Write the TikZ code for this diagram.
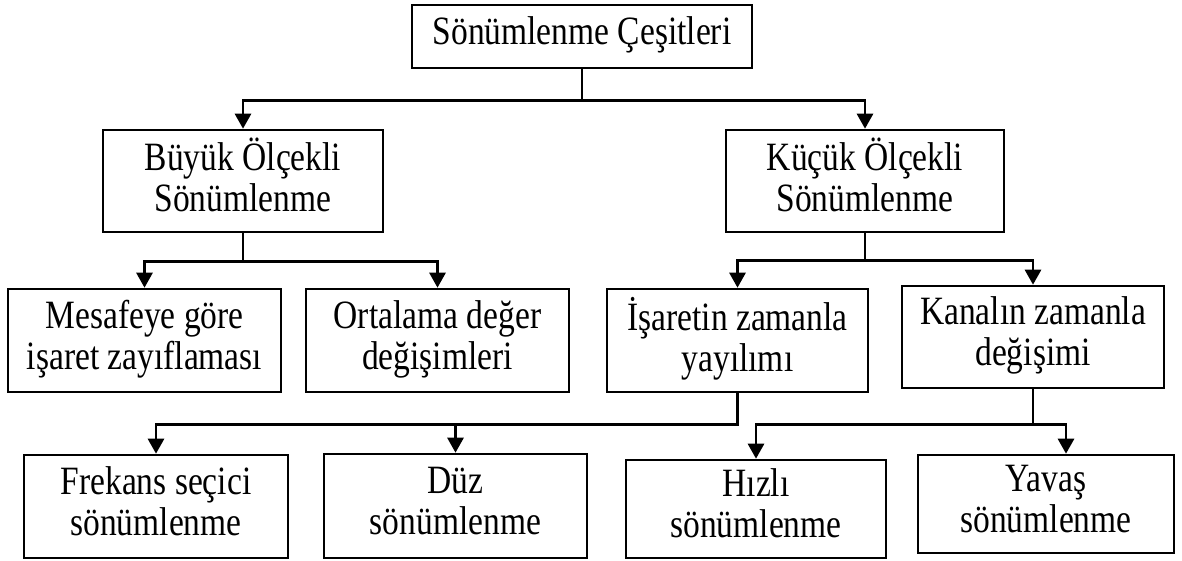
\documentclass[tikz,border=0pt]{standalone}
\usepackage{fontspec}
\usepackage{graphicx}
\setmainfont{Liberation Serif}
\usetikzlibrary{arrows.meta}
\newcommand{\tbx}[1]{\scalebox{1}[1.2]{\begin{tabular}{@{}c@{}}#1\end{tabular}}}
\begin{document}
\begin{tikzpicture}[x=1pt,y=-1pt,
 box/.style={draw, line width=2.6pt, inner sep=0pt, align=center, font=\fontsize{33.5}{34}\selectfont},
 conn/.style={line width=2.8pt},
 arr/.style={conn, -{Triangle[length=15pt,width=16pt]}}]
\useasboundingbox (0,0) rectangle (1182,560);
\node[box, minimum width=340pt, minimum height=63pt] (top) at (582,36.5) {\tbx{Sönümlenme Çeşitleri}};
\node[box, minimum width=280pt, minimum height=102pt] (buyuk) at (243,181) {\tbx{Büyük Ölçekli\\Sönümlenme}};
\node[box, minimum width=278pt, minimum height=102pt] (kucuk) at (865,181) {\tbx{Küçük Ölçekli\\Sönümlenme}};
\node[box, minimum width=273pt, minimum height=103pt] (mesafe) at (144.5,340.5) {\tbx{Mesafeye göre\\işaret zayıflaması}};
\node[box, minimum width=263pt, minimum height=103pt] (ortalama) at (437.5,340.5) {\tbx{Ortalama değer\\değişimleri}};
\node[box, minimum width=261pt, minimum height=103pt] (isaret) at (737.5,340.5) {\tbx{İşaretin zamanla\\yayılımı}};
\node[box, minimum width=262pt, minimum height=102pt] (kanal) at (1033,337) {\tbx{Kanalın zamanla\\değişimi}};
\node[box, minimum width=264pt, minimum height=103pt] (frekans) at (156,506.5) {\tbx{Frekans seçici\\sönümlenme}};
\node[box, minimum width=263pt, minimum height=104pt] (duz) at (455.5,506) {\tbx{Düz\\sönümlenme}};
\node[box, minimum width=260pt, minimum height=98pt] (hizli) at (756,509) {\tbx{Hızlı\\sönümlenme}};
\node[box, minimum width=256pt, minimum height=98pt] (yavas) at (1046,504) {\tbx{Yavaş\\sönümlenme}};

\draw[arr] (top.south) -- ++(0,31) -| (buyuk.north);
\draw[arr] (top.south) -- ++(0,31) -| (kucuk.north);
\draw[arr] (buyuk.south) -- ++(0,28) -| (mesafe.north);
\draw[arr] (buyuk.south) -- ++(0,28) -| (ortalama.north);
\draw[arr] (kucuk.south) -- ++(0,27) -| (isaret.north);
\draw[arr] (kucuk.south) -- ++(0,27) -| (kanal.north);
\draw[arr] (isaret.south) -- ++(0,31) -| (frekans.north);
\draw[arr] (isaret.south) -- ++(0,31) -| (duz.north);
\draw[arr] (kanal.south) -- ++(0,35) -| (hizli.north);
\draw[arr] (kanal.south) -- ++(0,35) -| ([xshift=20pt]yavas.north);
\end{tikzpicture}
\end{document}
